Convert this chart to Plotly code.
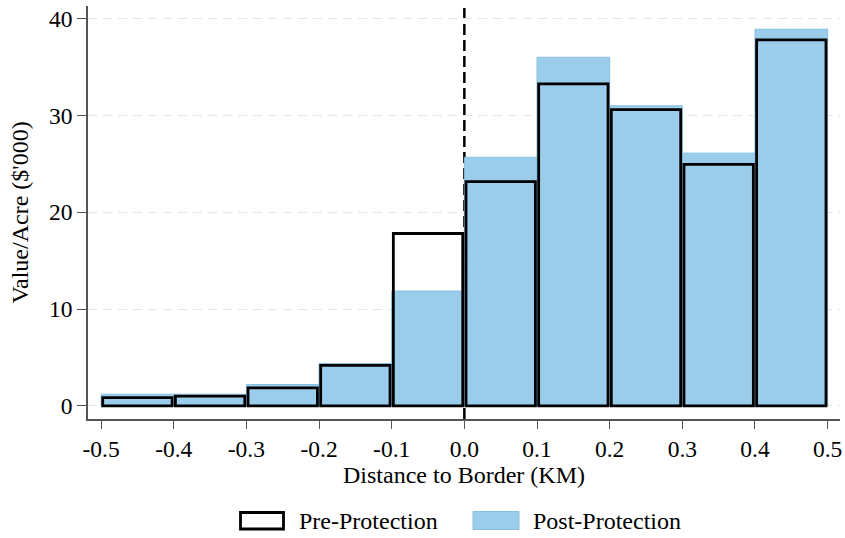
import plotly.graph_objects as go

# Bin centres (KM) and mean value per acre ($'000) in each bin
bin_centers = [-0.45, -0.35, -0.25, -0.15, -0.05, 0.05, 0.15, 0.25, 0.35, 0.45]
pre_protection = [0.85, 1.0, 1.85, 4.17, 17.8, 23.15, 33.25, 30.6, 24.95, 37.8]
post_protection = [1.2, 1.2, 2.2, 4.38, 11.86, 25.67, 36.0, 31.0, 26.1, 38.9]

x_tickvals = [-0.5, -0.4, -0.3, -0.2, -0.1, 0.0, 0.1, 0.2, 0.3, 0.4, 0.5]
x_ticktext = ["-0.5", "-0.4", "-0.3", "-0.2", "-0.1", "0.0", "0.1", "0.2", "0.3", "0.4", "0.5"]
y_tickvals = [0, 10, 20, 30, 40]

BLUE = "#9bcdeb"
BLUE_EDGE = "#86bfe5"
FONT = "Liberation Serif, Times New Roman, serif"

W, H = 845, 538
L, R, T, B = 88, 5, 6, 119

fig = go.Figure()

fig.add_trace(go.Bar(
    x=bin_centers, y=post_protection, width=0.1,
    marker=dict(color=BLUE, line=dict(color=BLUE_EDGE, width=1)),
    name="Post-Protection", showlegend=False,
))
fig.add_trace(go.Bar(
    x=bin_centers, y=pre_protection, width=0.0955,
    marker=dict(color="rgba(0,0,0,0)", line=dict(color="black", width=2.8)),
    name="Pre-Protection", showlegend=False,
))

# Border marker
fig.add_shape(type="line", xref="x", yref="paper", x0=0, x1=0, y0=0, y1=1,
              line=dict(color="black", width=2.5, dash="11px,5px"), layer="below")

# Legend drawn below the plot (pixel positions converted to paper units)
pw, ph = W - L - R, H - T - B
def px_x(p):
    return (p - L) / pw
def px_y(p):
    return (H - B - p) / ph

fig.add_shape(type="rect", xref="paper", yref="paper",
              x0=px_x(240.5), x1=px_x(283.5), y0=px_y(529), y1=px_y(512.5),
              fillcolor="white", line=dict(color="black", width=2.8))
fig.add_shape(type="rect", xref="paper", yref="paper",
              x0=px_x(473), x1=px_x(519), y0=px_y(529.5), y1=px_y(511.5),
              fillcolor=BLUE, line=dict(color=BLUE_EDGE, width=1))
fig.add_annotation(xref="paper", yref="paper", x=px_x(297), y=px_y(521),
                   text="Pre-Protection", showarrow=False, xanchor="left", yanchor="middle",
                   font=dict(family=FONT, size=24, color="black"))
fig.add_annotation(xref="paper", yref="paper", x=px_x(531), y=px_y(521),
                   text="Post-Protection", showarrow=False, xanchor="left", yanchor="middle",
                   font=dict(family=FONT, size=24, color="black"))

fig.update_layout(
    width=W, height=H,
    margin=dict(l=L, r=R, t=T, b=B, autoexpand=False),
    barmode="overlay",
    plot_bgcolor="white", paper_bgcolor="white",
    font=dict(family=FONT, size=24, color="black"),
)
fig.update_xaxes(
    range=[-0.518, 0.517], tickvals=x_tickvals, ticktext=x_ticktext,
    showline=True, linecolor="#555555", linewidth=1.5,
    ticks="outside", ticklen=8, tickwidth=1.3, tickcolor="#555555",
    showgrid=False, zeroline=False, automargin=False,
    title=dict(text="Distance to Border (KM)", font=dict(size=24), standoff=5),
    tickfont=dict(size=23.5),
)
fig.update_yaxes(
    range=[-1.36, 41.3], tickvals=y_tickvals,
    showline=True, linecolor="#555555", linewidth=1.5,
    ticks="outside", ticklen=9, tickwidth=1.3, tickcolor="#555555",
    showgrid=True, gridcolor="#e6e6e6", gridwidth=1.3, griddash="9px,6px",
    zeroline=False, automargin=False,
    title=dict(text="Value/Acre ($'000)", font=dict(size=24), standoff=14),
    tickfont=dict(size=23.5),
)

fig.write_html("out.html")
